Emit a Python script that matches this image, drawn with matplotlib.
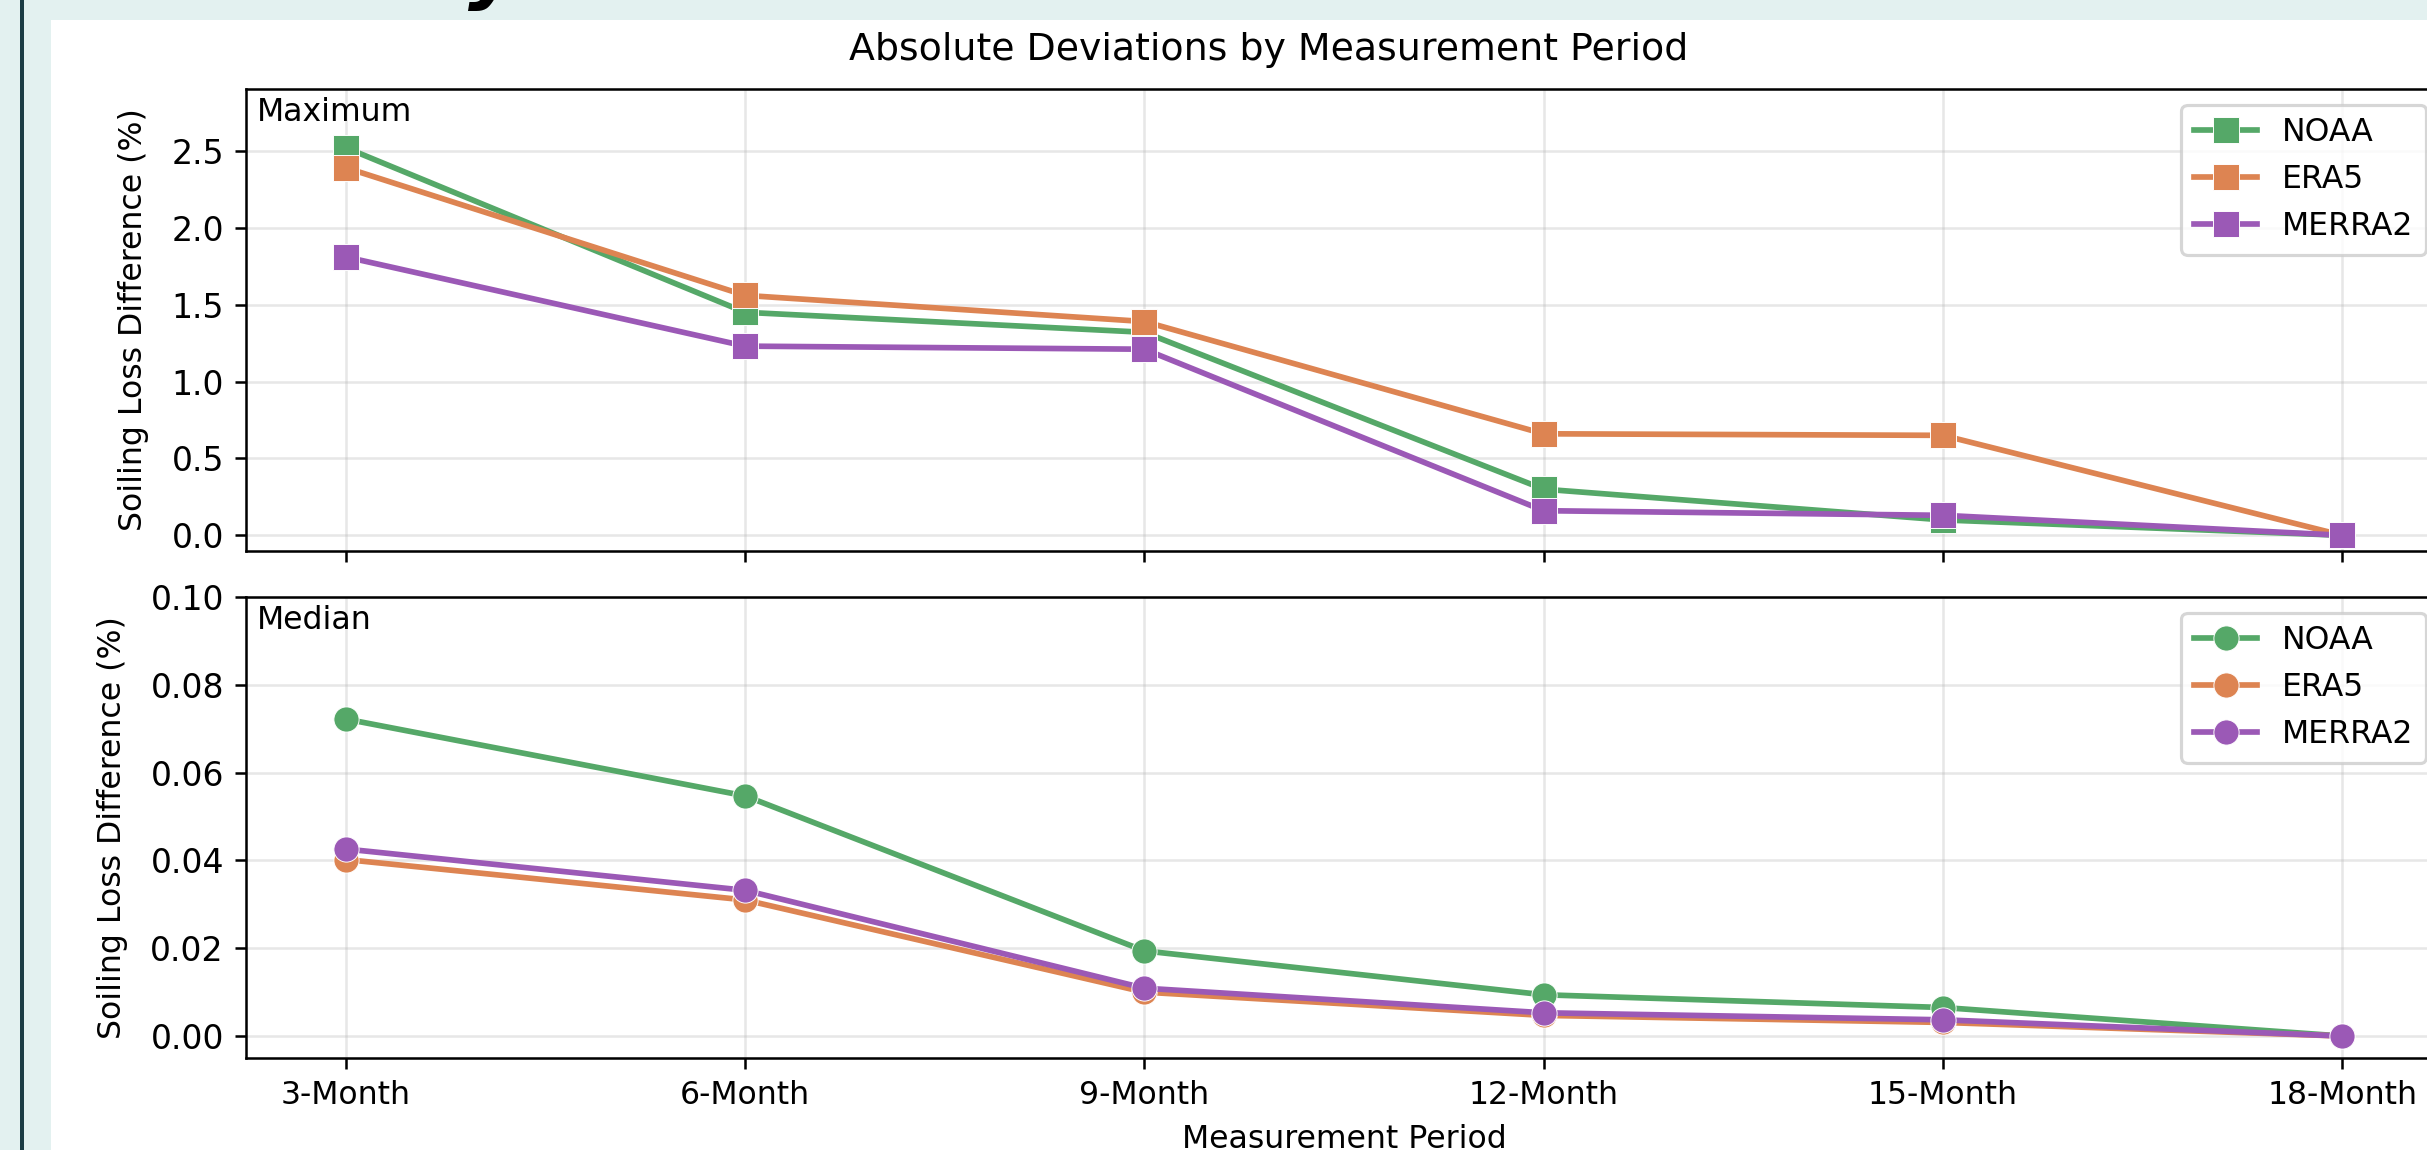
import matplotlib
matplotlib.use("Agg")
import matplotlib.pyplot as plt
from matplotlib.patches import Rectangle

# measurement periods and absolute deviations (%) per reanalysis source
periods = ['3-Month', '6-Month', '9-Month', '12-Month', '15-Month', '18-Month']

max_noaa = [2.52, 1.45, 1.32, 0.30, 0.10, 0.00]
max_era5 = [2.39, 1.56, 1.39, 0.66, 0.65, 0.00]
max_merra2 = [1.81, 1.23, 1.21, 0.16, 0.13, 0.00]

med_noaa = [0.0722, 0.0547, 0.0194, 0.0094, 0.0065, 0.0]
med_era5 = [0.0402, 0.0310, 0.0100, 0.0047, 0.0031, 0.0]
med_merra2 = [0.0426, 0.0332, 0.0109, 0.0053, 0.0037, 0.0]

sources = ['NOAA', 'ERA5', 'MERRA2']
colors = ['#55a868', '#dd8452', '#9b59b6']

W, H = 2427, 1150
DPI = 227
plt.rcParams['font.family'] = ['DejaVu Sans']
plt.rcParams['font.size'] = 10

fig = plt.figure(figsize=((W + 0.01) / DPI, (H + 0.01) / DPI), dpi=DPI)
fig.patch.set_facecolor('#e3f1f0')

# page frame around the figure panel (kept behind the axes)
fig.patches.append(Rectangle((51 / W, 0), 1, 1 - 20 / H, transform=fig.transFigure,
                             facecolor='white', edgecolor='none', zorder=-10))
fig.patches.append(Rectangle((20 / W, 0), 4 / W, 1, transform=fig.transFigure,
                             facecolor='#1b3c44', edgecolor='none', zorder=-10))
fig.text(468 / W, 1 + 6 / H, 'y', fontsize=25, fontweight='bold', fontstyle='italic',
         va='baseline', ha='left', color='black')


def px_rect(left, top, right, bottom):
    return [left / W, 1 - bottom / H, (right - left) / W, (bottom - top) / H]


ax1 = fig.add_axes(px_rect(246, 89, 2442, 551))
ax2 = fig.add_axes(px_rect(246, 597, 2442, 1058), sharex=ax1)

panels = [
    (ax1, [max_noaa, max_era5, max_merra2], 's', 'Maximum'),
    (ax2, [med_noaa, med_era5, med_merra2], 'o', 'Median'),
]

for ax, series, marker, tag in panels:
    for name, vals, c in zip(sources, series, colors):
        ax.plot(periods, vals, color=c, lw=1.8, marker=marker, ms=8,
                mec='white', mew=0.3, label=name)
    ax.grid(True, alpha=0.3)
    ax.set_axisbelow(True)
    ax.tick_params(axis='y', labelsize=10.5)
    ax.set_ylabel('Soiling Loss Difference (%)', labelpad=7)
    ax.text(0.005, 0.982, tag, transform=ax.transAxes, ha='left', va='top')
    ax.legend(loc='upper right')

ax1.set_ylim(-0.102, 2.902)
ax1.set_yticks([0.0, 0.5, 1.0, 1.5, 2.0, 2.5])
ax1.tick_params(labelbottom=False)
ax2.set_ylim(-0.005, 0.1)
ax2.set_yticks([0.0, 0.02, 0.04, 0.06, 0.08, 0.10])
ax2.set_xlabel('Measurement Period')

fig.text(1269 / W, 1 - 60 / H, 'Absolute Deviations by Measurement Period',
         fontsize=12, ha='center', va='baseline')

fig.savefig('out.png', dpi=DPI, facecolor=fig.get_facecolor())
